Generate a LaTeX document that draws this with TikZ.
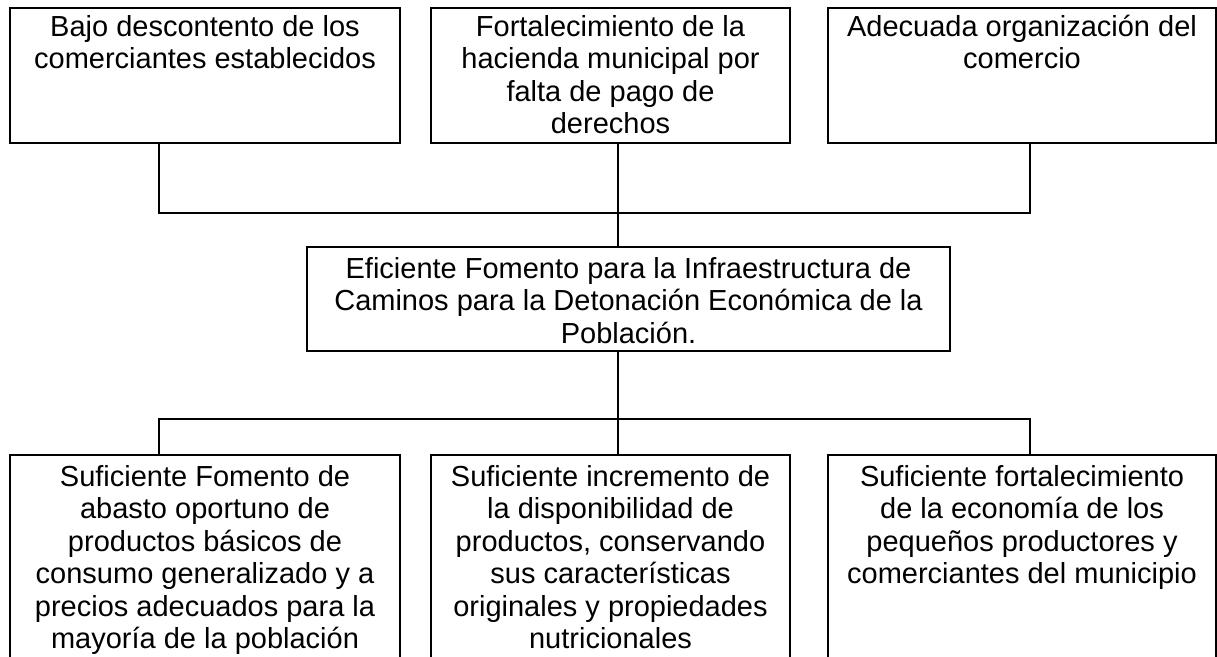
\documentclass[tikz,border=0pt]{standalone}
\usepackage{fontspec}
\setmainfont{Liberation Sans}
\newcommand{\boxtxt}[2]{\vtop{\hsize=#1\parindent=0pt\centering\fontsize{29}{32.5}\selectfont\baselineskip=32.5pt\relax #2\par}}
\tikzset{
  box/.style={draw, line width=1.8pt, inner sep=0pt, rectangle},
  conn/.style={draw, line width=1.8pt},
  txt/.style={anchor=base, inner sep=0pt}
}
\begin{document}
\begin{tikzpicture}[x=1pt,y=-1pt]
\clip (0,0) rectangle (1217,656);
\fill[white] (0,0) rectangle (1217,656);
% top boxes
\node[box, minimum width=390pt, minimum height=135pt] (b1) at (205,75.5) {};
\node[box, minimum width=359pt, minimum height=135pt] (b2) at (610.5,75.5) {};
\node[box, minimum width=388pt, minimum height=135pt] (b3) at (1022,75.5) {};
% middle
\node[box, minimum width=643pt, minimum height=104pt] (mid) at (628.5,299) {};
% bottom boxes
\node[box, minimum width=390pt, minimum height=225pt] (b4) at (205,567.5) {};
\node[box, minimum width=359pt, minimum height=225pt] (b5) at (610.5,567.5) {};
\node[box, minimum width=388pt, minimum height=225pt] (b6) at (1022,567.5) {};
% texts
\node[txt] (t1) at (205,36) {\boxtxt{380pt}{Bajo descontento de los\\comerciantes establecidos}};
\node[txt] (t2) at (610.5,36) {\boxtxt{350pt}{Fortalecimiento de la\\hacienda municipal por\\falta de pago de\\derechos}};
\node[txt] (t3) at (1022,36) {\boxtxt{380pt}{Adecuada organización del\\comercio}};
\node[txt] (tm) at (628.5,278) {\boxtxt{630pt}{Eficiente Fomento para la Infraestructura de\\Caminos para la Detonación Económica de la\\Población.}};
\node[txt] (t4) at (205,486) {\boxtxt{380pt}{Suficiente Fomento de\\abasto oportuno de\\productos básicos de\\consumo generalizado y a\\precios adecuados para la\\mayoría de la población}};
\node[txt] (t5) at (610.5,486) {\boxtxt{350pt}{Suficiente incremento de\\la disponibilidad de\\productos, conservando\\sus características\\originales y propiedades\\nutricionales}};
\node[txt] (t6) at (1022,486) {\boxtxt{380pt}{Suficiente fortalecimiento\\de la economía de los\\pequeños productores y\\comerciantes del municipio}};
% connectors
\coordinate (x1) at (159,0);
\coordinate (xm) at (618,0);
\coordinate (x3) at (1030,0);
\coordinate (busT) at (618,213);
\coordinate (busB) at (618,419);
\draw[conn] (b1.south -| x1) |- (busT -| x3) -- (b3.south -| x3);
\draw[conn] (b2.south -| xm) -- (mid.north -| xm);
\draw[conn] (mid.south -| xm) -- (b5.north -| xm);
\draw[conn] (b4.north -| x1) |- (busB -| x3) -- (b6.north -| x3);
\end{tikzpicture}
\end{document}
